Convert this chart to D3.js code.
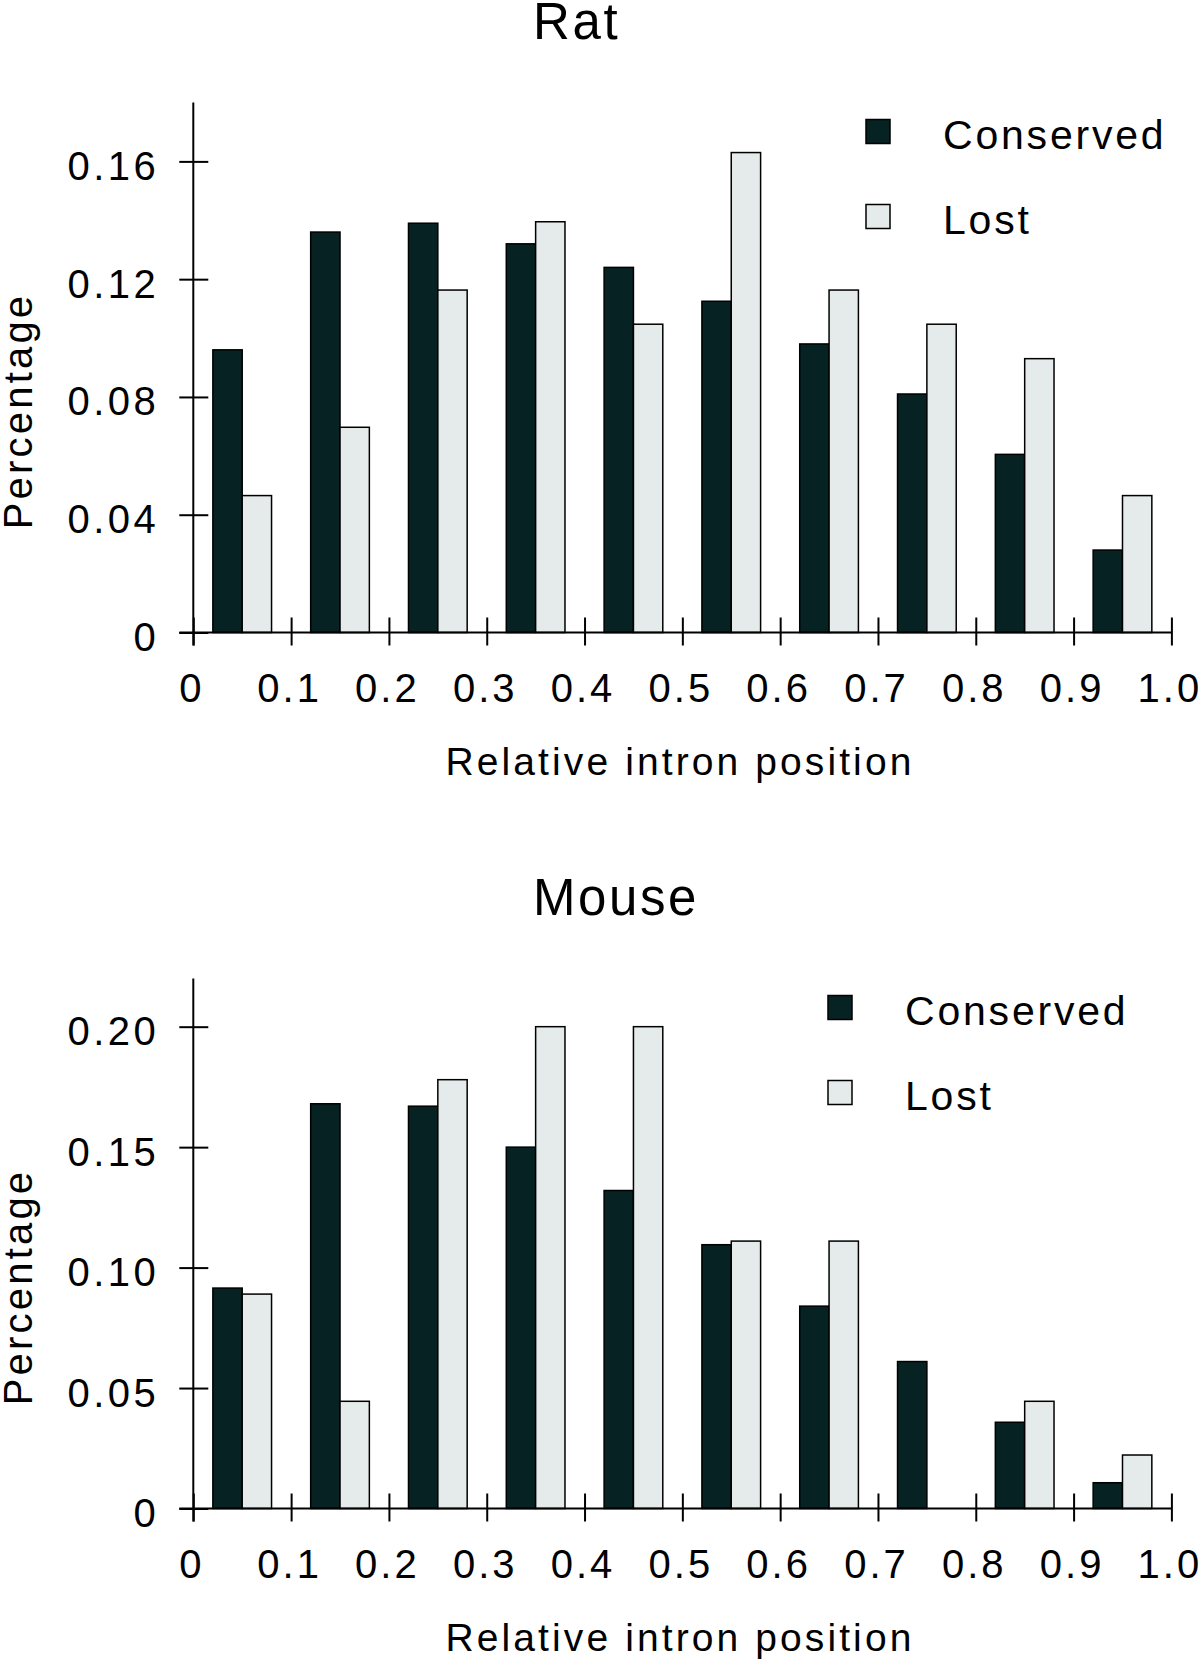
<!DOCTYPE html>
<html>
<head>
<meta charset="utf-8">
<script src="https://cdn.jsdelivr.net/npm/d3@7"></script>
<style>
  html, body { margin: 0; padding: 0; background: #fff; }
  svg { display: block; font-family: "Liberation Sans", Arial, Helvetica, sans-serif; }
</style>
</head>
<body>
<svg id="chart" width="1200" height="1665"></svg>
<script>
// ---- data ----
const bins = [0, 0.1, 0.2, 0.3, 0.4, 0.5, 0.6, 0.7, 0.8, 0.9];
const seriesNames = ["Conserved", "Lost"];
const ratConserved = [0.096, 0.136, 0.139, 0.132, 0.124, 0.1125, 0.098, 0.081, 0.0605, 0.028];
const ratLost      = [0.0465, 0.0697, 0.1163, 0.1395, 0.1047, 0.163, 0.1163, 0.1047, 0.093, 0.0465];
const mouseConserved = [0.0915, 0.168, 0.167, 0.150, 0.132, 0.1095, 0.084, 0.061, 0.0358, 0.0107];
const mouseLost      = [0.089, 0.0445, 0.178, 0.200, 0.200, 0.111, 0.111, 0, 0.0445, 0.0222];
const xTicks = [0, 0.1, 0.2, 0.3, 0.4, 0.5, 0.6, 0.7, 0.8, 0.9, 1.0];
const xTickLabels = ["0", "0.1", "0.2", "0.3", "0.4", "0.5", "0.6", "0.7", "0.8", "0.9", "1.0"];
const ratYTicks = [0, 0.04, 0.08, 0.12, 0.16];
const ratYTickLabels = ["0", "0.04", "0.08", "0.12", "0.16"];
const mouseYTicks = [0, 0.05, 0.10, 0.15, 0.20];
const mouseYTickLabels = ["0", "0.05", "0.10", "0.15", "0.20"];
const titles = ["Rat", "Mouse"];
const xLabel = "Relative intron position";
const yLabel = "Percentage";

const colors = ["#072222", "#e5ebea"];

const svg = d3.select("#chart");

const x = d3.scaleLinear().domain([0, 1]).range([193.3, 1171.4]);

function panel(cfg) {
  const { off, yMax, conserved, lost, yTicks, yTickLabels, title, legendX } = cfg;
  const zero = 632.5 + off;
  const y = d3.scaleLinear().domain([0, yMax]).range([zero, zero - 530]);
  const g = svg.append("g");

  // title
  g.append("text")
    .attr("x", 533).attr("y", 39 + off)
    .attr("font-size", 51).attr("letter-spacing", 2.6)
    .attr("fill", "#000")
    .text(title);

  // bars
  const data = bins.map((b, i) => ({ b, c: conserved[i], l: lost[i] }));
  const bw = x(0.03) - x(0);
  g.selectAll("rect.cons").data(data).enter().append("rect")
    .attr("class", "cons")
    .attr("x", d => x(d.b + 0.02))
    .attr("width", bw)
    .attr("y", d => y(d.c))
    .attr("height", d => zero - y(d.c))
    .attr("fill", colors[0])
    .attr("stroke", "#000").attr("stroke-width", 1.5);
  g.selectAll("rect.lost").data(data.filter(d => d.l > 0)).enter().append("rect")
    .attr("class", "lost")
    .attr("x", d => x(d.b + 0.05))
    .attr("width", bw)
    .attr("y", d => y(d.l))
    .attr("height", d => zero - y(d.l))
    .attr("fill", colors[1])
    .attr("stroke", "#000").attr("stroke-width", 1.5);

  // y axis
  const yAxis = d3.axisLeft(y)
    .tickValues(yTicks)
    .tickFormat((d, i) => yTickLabels[i])
    .tickSize(14).tickPadding(20);
  const ya = g.append("g").attr("transform", `translate(${x(0)},0)`).call(yAxis);
  ya.select(".domain").remove();
  ya.selectAll(".tick line").attr("x1", 15).attr("x2", -14)
    .attr("stroke", "#000").attr("stroke-width", 2);
  ya.selectAll(".tick text")
    .attr("font-size", 40).attr("letter-spacing", 3.5)
    .attr("font-family", "Liberation Sans, Arial, sans-serif")
    .attr("fill", "#000")
    .attr("dy", "0.45em");
  g.append("line")
    .attr("x1", x(0)).attr("x2", x(0))
    .attr("y1", y(yMax)).attr("y2", zero + 13)
    .attr("stroke", "#000").attr("stroke-width", 2);

  // x axis
  const xAxis = d3.axisBottom(x)
    .tickValues(xTicks)
    .tickFormat((d, i) => xTickLabels[i])
    .tickSize(13).tickPadding(28);
  const xa = g.append("g").attr("transform", `translate(0,${zero})`).call(xAxis);
  xa.select(".domain").remove();
  xa.selectAll(".tick line").attr("y1", -15).attr("y2", 13)
    .attr("stroke", "#000").attr("stroke-width", 2);
  xa.selectAll(".tick text")
    .attr("font-size", 40).attr("letter-spacing", 3)
    .attr("font-family", "Liberation Sans, Arial, sans-serif")
    .attr("fill", "#000")
    .attr("dx", "-2");
  g.append("line")
    .attr("x1", x(0) - 14).attr("x2", x(1))
    .attr("y1", zero).attr("y2", zero)
    .attr("stroke", "#000").attr("stroke-width", 2);

  // axis titles
  g.append("text")
    .attr("x", 680).attr("y", 775 + off)
    .attr("text-anchor", "middle")
    .attr("font-size", 39).attr("letter-spacing", 3.1)
    .attr("fill", "#000")
    .text(xLabel);
  g.append("text")
    .attr("transform", `translate(32,${411 + off}) rotate(-90)`)
    .attr("text-anchor", "middle")
    .attr("font-size", 40).attr("letter-spacing", 3.2)
    .attr("fill", "#000")
    .text(yLabel);

  // legend
  seriesNames.forEach((name, i) => {
    const ly = 119.5 + off + i * 85;
    g.append("rect")
      .attr("x", legendX).attr("y", ly)
      .attr("width", 24).attr("height", 24)
      .attr("fill", colors[i])
      .attr("stroke", "#000").attr("stroke-width", 1.5);
    g.append("text")
      .attr("x", legendX + 77).attr("y", ly + 29.5)
      .attr("font-size", 41).attr("letter-spacing", 2.8)
      .attr("fill", "#000")
      .text(name);
  });
}

panel({ off: 0, yMax: 0.18, conserved: ratConserved, lost: ratLost,
        yTicks: ratYTicks, yTickLabels: ratYTickLabels, title: titles[0], legendX: 866 });
panel({ off: 876, yMax: 0.22, conserved: mouseConserved, lost: mouseLost,
        yTicks: mouseYTicks, yTickLabels: mouseYTickLabels, title: titles[1], legendX: 828 });
</script>
</body>
</html>
